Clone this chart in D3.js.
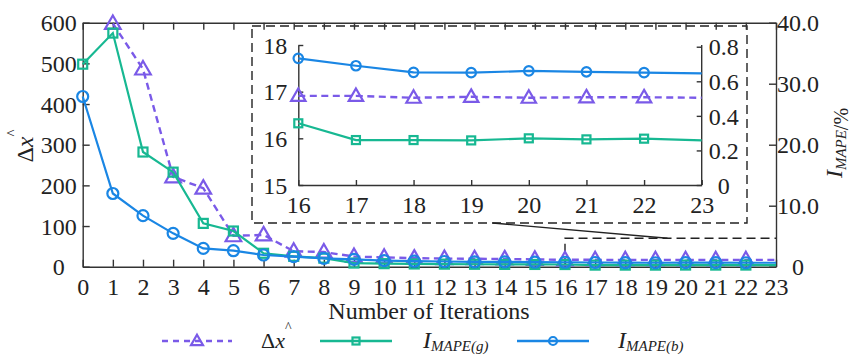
<!DOCTYPE html>
<html lang="en">
<head>
<meta charset="utf-8">
<title>Iterations</title>
<script src="https://cdn.jsdelivr.net/npm/d3@7"></script>
<style>
  body { margin: 0; background: #fff; }
  svg text { font-family: "Liberation Serif", "Times New Roman", serif; fill: #222; }
</style>
</head>
<body>
<script>
// data
var iterations = [0,1,2,3,4,5,6,7,8,9,10,11,12,13,14,15,16,17,18,19,20,21,22,23];
// left axis (no value at iteration 0)
var deltaX = [null,598,486,221,193,76,78,38,36,25,23,21,20,19.5,19,18,16.91,16.91,16.87,16.89,16.87,16.88,16.88,16.87];
// right axis, %
var mapeG = [33.2,38.3,18.8,15.5,7.1,5.85,2.2,1.7,1.4,0.6,0.5,0.45,0.42,0.4,0.38,0.37,0.357,0.26,0.26,0.258,0.27,0.264,0.268,0.258];
var mapeB = [27.9,12.0,8.36,5.47,3.0,2.62,1.92,1.64,1.38,1.2,1.0,0.9,0.85,0.8,0.78,0.75,0.733,0.69,0.652,0.65,0.66,0.655,0.65,0.646];

var leftTicks = [0,100,200,300,400,500,600];
var rightTicks = [0,10,20,30,40];
var insetLeftTicks = [15,16,17,18];
var insetRightTicks = [0,0.2,0.4,0.6,0.8];
var insetFrom = 16;

var cPurple = "#7a5ae8", cGreen = "#17b892", cBlue = "#1a86e4";
var serif = '"Liberation Serif", "Times New Roman", serif';

var w = 854, h = 356;
var svg = d3.select("body").append("svg").attr("width", w).attr("height", h);

// main scales
var x = d3.scaleLinear().domain([0, 23]).range([82.7, 776]);
var yL = d3.scaleLinear().domain([0, 600]).range([266.7, 22.7]);
var yR = d3.scaleLinear().domain([0, 40]).range([266.7, 22.7]);

// inset scales
var xi = d3.scaleLinear().domain([16, 23]).range([298.3, 701.7]);
var yi = d3.scaleLinear().domain([15, 18]).range([185, 45]);
var yiR = d3.scaleLinear().domain([0, 0.81]).range([185, 45]);

function styleAxis(g, fs) {
  g.attr("font-family", serif).attr("font-size", fs);
  g.selectAll("path.domain").attr("stroke", "#333").attr("stroke-width", 1.4);
  g.selectAll(".tick line").attr("stroke", "#333").attr("stroke-width", 1.4);
  g.selectAll(".tick text").style("font-family", serif).style("font-size", fs + "px").attr("fill", "#222");
}

var fmtInt = d3.format("d");
var fmtR = function(d) { return d === 0 ? "0" : d.toFixed(1); };
var fmtIR = function(d) { return d === 0 ? "0" : d3.format(".1f")(d); };

// dashed zoom box in main plot + connector
var zoomTop = 70;
svg.append("path")
  .attr("d", "M" + x(16) + "," + yL(0) + "V" + yL(zoomTop) + "H" + x(23))
  .attr("fill", "none").attr("stroke", "#222").attr("stroke-width", 1.4)
  .attr("stroke-dasharray", "9,5");

// inset box (layout)
var box = {x0: 252, x1: 747, y0: 26, y1: 223};
svg.append("rect")
  .attr("x", box.x0).attr("y", box.y0)
  .attr("width", box.x1 - box.x0).attr("height", box.y1 - box.y0)
  .attr("fill", "#fff").attr("stroke", "#222").attr("stroke-width", 1.4)
  .attr("stroke-dasharray", "9,5");

svg.append("line")
  .attr("x1", x(13.6)).attr("y1", box.y1)
  .attr("x2", x(19.4)).attr("y2", yL(zoomTop))
  .attr("stroke", "#222").attr("stroke-width", 1.3);

// main axes
var gx = svg.append("g").attr("transform", "translate(0," + yL(0) + ")")
  .call(d3.axisBottom(x).tickValues(iterations).tickFormat(fmtInt).tickSize(-7).tickSizeOuter(0).tickPadding(11.5));
styleAxis(gx, 24);
var gt = svg.append("g").attr("transform", "translate(0," + yL(600) + ")")
  .call(d3.axisTop(x).tickValues(iterations).tickSize(-7).tickSizeOuter(0).tickFormat(""));
styleAxis(gt, 24);
var gl = svg.append("g").attr("transform", "translate(" + x(0) + ",0)")
  .call(d3.axisLeft(yL).tickValues(leftTicks).tickFormat(fmtInt).tickSize(-7).tickSizeOuter(0));
styleAxis(gl, 24);
gl.selectAll(".tick text").attr("text-anchor", "middle").attr("x", -24).attr("dy", "0.34em");
var gr = svg.append("g").attr("transform", "translate(" + x(23) + ",0)")
  .call(d3.axisRight(yR).tickValues(rightTicks).tickSize(-7).tickSizeOuter(0).tickFormat(fmtR));
styleAxis(gr, 24);
gr.selectAll(".tick text").attr("text-anchor", "middle").attr("x", 22).attr("dy", "0.34em");

// inset axes
var ib = svg.append("g").attr("transform", "translate(0," + yi(15) + ")")
  .call(d3.axisBottom(xi).tickValues(iterations.filter(function(d) { return d >= insetFrom; }))
    .tickFormat(fmtInt).tickSize(-5).tickSizeOuter(0).tickPadding(11));
styleAxis(ib, 24);
var il = svg.append("g").attr("transform", "translate(" + xi(16) + ",0)")
  .call(d3.axisLeft(yi).tickValues(insetLeftTicks).tickFormat(fmtInt).tickSize(-5).tickSizeOuter(0));
styleAxis(il, 24);
il.selectAll(".tick text").attr("text-anchor", "middle").attr("x", -23).attr("dy", "0.34em");
var ir = svg.append("g").attr("transform", "translate(" + xi(23) + ",0)")
  .call(d3.axisRight(yiR).tickValues(insetRightTicks).tickFormat(fmtIR).tickSize(-5).tickSizeOuter(0));
styleAxis(ir, 24);
ir.selectAll(".tick text").attr("text-anchor", "middle").attr("x", 22).attr("dy", "0.34em");
ir.select("path.domain").attr("d", "M0," + yiR(0) + "V" + yi(18));

// markers
function marker(sel, kind, s) {
  if (kind === "tri") {
    return sel.append("path").attr("d", "M0," + (-s * 0.62) + "L" + (s * 0.6) + "," + (s * 0.42) + "L" + (-s * 0.6) + "," + (s * 0.42) + "Z");
  } else if (kind === "sq") {
    return sel.append("rect").attr("x", -s / 2).attr("y", -s / 2).attr("width", s).attr("height", s);
  }
  return sel.append("circle").attr("r", s / 2);
}

function drawSeries(g, xs, ys, values, idx, color, kind, size, dash) {
  var pts = idx.map(function(i) { return {i: iterations[i], v: values[i]}; })
    .filter(function(d) { return d.v !== null; });
  var line = d3.line().x(function(d) { return xs(d.i); }).y(function(d) { return ys(d.v); });
  g.append("path").datum(pts).attr("d", line)
    .attr("fill", "none").attr("stroke", color).attr("stroke-width", dash ? 2.4 : 2.2)
    .attr("stroke-dasharray", dash ? "7,4.5" : null);
  var mk = g.selectAll("g.m").data(pts.filter(function(d) { return d.i < 23; }))
    .enter().append("g").attr("class", "m")
    .attr("transform", function(d) { return "translate(" + xs(d.i) + "," + ys(d.v) + ")"; });
  marker(mk, kind, size).attr("fill", "none").attr("stroke", color).attr("stroke-width", 2.2);
}

var all = iterations.map(function(d, i) { return i; });
var ins = all.filter(function(i) { return iterations[i] >= insetFrom; });

var gm = svg.append("g");
drawSeries(gm.append("g"), x, yL, deltaX, all, cPurple, "tri", 13, true);
drawSeries(gm.append("g"), x, yR, mapeG, all, cGreen, "sq", 9, false);
drawSeries(gm.append("g"), x, yR, mapeB, all, cBlue, "circ", 11, false);

var gi = svg.append("g");
drawSeries(gi.append("g"), xi, yi, deltaX, ins, cPurple, "tri", 12, true);
drawSeries(gi.append("g"), xi, yiR, mapeG, ins, cGreen, "sq", 8, false);
drawSeries(gi.append("g"), xi, yiR, mapeB, ins, cBlue, "circ", 9.5, false);

// axis titles
svg.append("text").attr("x", 429).attr("y", 319).attr("text-anchor", "middle")
  .style("font-size", "24px").text("Number of Iterations");

var yt = svg.append("text").attr("transform", "translate(33,146) rotate(-90)")
  .attr("text-anchor", "middle").style("font-size", "24px");
yt.append("tspan").text("Δ");
yt.append("tspan").style("font-style", "italic").text("x");
yt.append("tspan").attr("dy", -16).style("font-size", "15px").text("^");

var rt = svg.append("text").attr("transform", "translate(842,143) rotate(-90)")
  .attr("text-anchor", "middle").style("font-size", "24px");
rt.append("tspan").style("font-style", "italic").text("I");
rt.append("tspan").attr("dy", 4).style("font-style", "italic").style("font-size", "15px").text("MAPE");
rt.append("tspan").attr("dy", 2).style("font-size", "20px").text("/%");

// legend
var legend = [
  {color: cPurple, kind: "tri", dash: true, x0: 162, x1: 232, tx: 261, label: "dx"},
  {color: cGreen, kind: "sq", dash: false, x0: 320, x1: 392, tx: 423, label: "g"},
  {color: cBlue, kind: "circ", dash: false, x0: 517, x1: 589, tx: 618, label: "b"}
];
var ly = 341;
legend.forEach(function(d) {
  var g = svg.append("g");
  g.append("line").attr("x1", d.x0).attr("x2", d.x1).attr("y1", ly).attr("y2", ly)
    .attr("stroke", d.color).attr("stroke-width", 2.4)
    .attr("stroke-dasharray", d.dash ? "6,5" : null);
  var m = g.append("g").attr("transform", "translate(" + (d.x0 + d.x1) / 2 + "," + ly + ")");
  marker(m, d.kind, d.kind === "tri" ? 10 : d.kind === "sq" ? 7 : 8)
    .attr("fill", "none").attr("stroke", d.color).attr("stroke-width", 2.2);
  var t = g.append("text").attr("x", d.tx).attr("y", 348).style("font-size", "22px");
  if (d.label === "dx") {
    t.append("tspan").text("Δ");
    t.append("tspan").style("font-style", "italic").text("x");
    t.append("tspan").attr("dy", -16).style("font-size", "14px").text("^");
  } else {
    t.append("tspan").style("font-style", "italic").style("font-size", "24px").text("I");
    t.append("tspan").attr("dy", 3).style("font-style", "italic").style("font-size", "15px")
      .text("MAPE(" + d.label + ")");
  }
});
</script>
</body>
</html>
